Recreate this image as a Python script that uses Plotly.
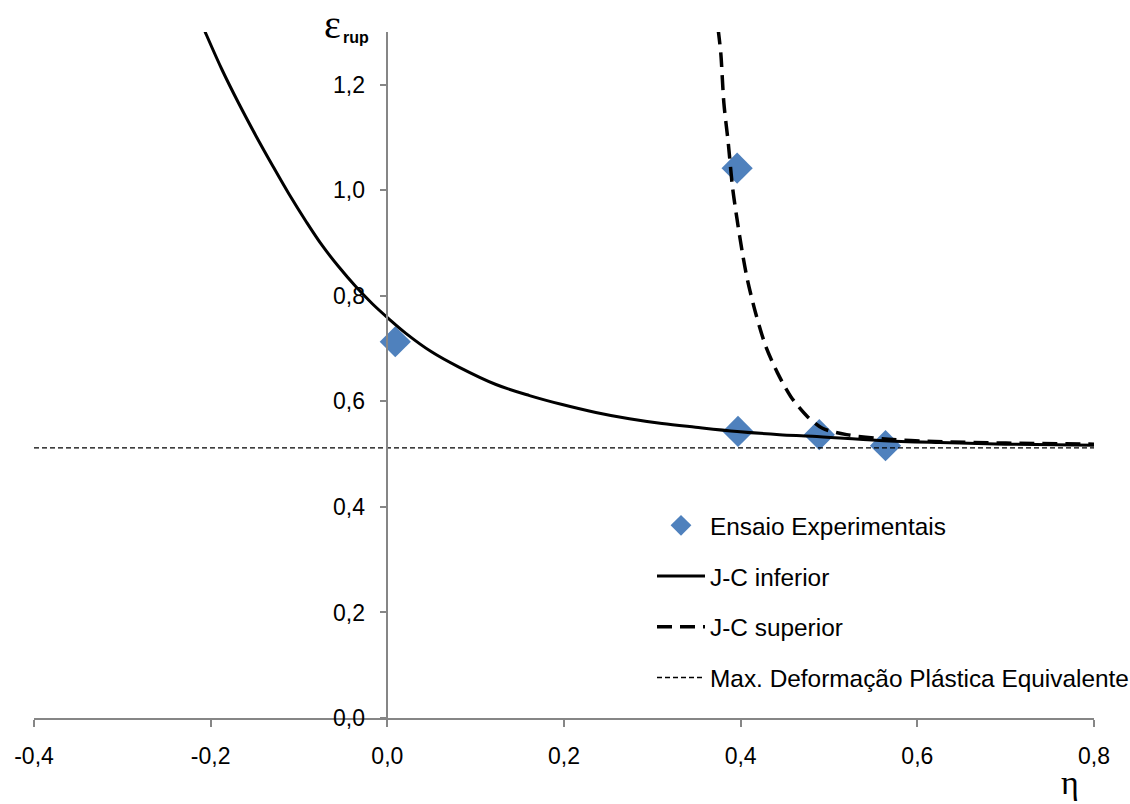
import plotly.graph_objects as go

# Experimental rupture strains vs. stress triaxiality
exp_eta = [0.009, 0.396, 0.397, 0.489, 0.564]
exp_eps = [0.713, 1.042, 0.543, 0.537, 0.516]

# Johnson-Cook lower-bound curve
inf_eta = [-0.209, -0.2057, -0.187, -0.168, -0.149, -0.130, -0.111, -0.092, -0.074,
           -0.055, -0.036, -0.017, 0.002, 0.021, 0.050, 0.081, 0.123, 0.161, 0.198,
           0.236, 0.274, 0.311, 0.349, 0.396, 0.444, 0.481, 0.557, 0.625, 0.700, 0.800]
inf_eps = [1.311, 1.298, 1.228, 1.164, 1.104, 1.047, 0.992, 0.941, 0.896,
           0.855, 0.818, 0.785, 0.756, 0.729, 0.694, 0.665, 0.632, 0.611, 0.594,
           0.579, 0.567, 0.558, 0.551, 0.543, 0.537, 0.534, 0.526, 0.522, 0.519, 0.517]

# Johnson-Cook upper-bound curve
sup_eta = [0.3745, 0.3775, 0.381, 0.386, 0.3907, 0.396, 0.402, 0.4077, 0.417, 0.4285,
           0.4417, 0.4568, 0.4757, 0.4926, 0.520, 0.560, 0.620, 0.700, 0.800]
sup_eps = [1.305, 1.260, 1.165, 1.089, 1.007, 0.944, 0.881, 0.830, 0.767, 0.704,
           0.654, 0.609, 0.571, 0.549, 0.537, 0.529, 0.524, 0.521, 0.519]

# Maximum equivalent plastic strain
max_eta = [-0.4, 0.8]
max_eps = [0.512, 0.512]

x_ticks = [-0.4, -0.2, 0.0, 0.2, 0.4, 0.6, 0.8]
x_labels = ["-0,4", "-0,2", "0,0", "0,2", "0,4", "0,6", "0,8"]
y_ticks = [0.0, 0.2, 0.4, 0.6, 0.8, 1.0, 1.2]
y_labels = ["0,0", "0,2", "0,4", "0,6", "0,8", "1,0", "1,2"]

W, H = 1130, 804
ML, MR, MT, MB = 34, 36, 32, 86
PW, PH = W - ML - MR, H - MT - MB


def px(x):
    return (x - ML) / PW


def py(y):
    return (H - MB - y) / PH


FONT = "Liberation Sans, Arial, sans-serif"
SERIF = "Liberation Serif, Times New Roman, serif"
AXIS_GREY = "#868686"

fig = go.Figure()

fig.add_trace(go.Scatter(
    x=exp_eta, y=exp_eps, mode="markers", name="Ensaio Experimentais",
    legendgroup="a",
    marker=dict(symbol="diamond", size=24, color="#4F81BD", line=dict(width=0)),
))
fig.add_trace(go.Scatter(
    x=inf_eta, y=inf_eps, mode="lines", name="J-C inferior", legendgroup="b",
    line=dict(color="black", width=3, shape="spline", smoothing=1.0),
))
fig.add_trace(go.Scatter(
    x=sup_eta, y=sup_eps, mode="lines", name="J-C superior", legendgroup="c",
    line=dict(color="black", width=3.5, dash="15px,8px", shape="spline", smoothing=0.8),
))
fig.add_trace(go.Scatter(
    x=max_eta, y=max_eps, mode="lines", name="Max. Deformação Plástica Equivalente",
    legendgroup="d",
    line=dict(color="black", width=1.3, dash="5px,3px"),
))

fig.update_layout(
    width=W, height=H,
    margin=dict(l=ML, r=MR, t=MT, b=MB, autoexpand=False),
    paper_bgcolor="white", plot_bgcolor="white",
    font=dict(family=FONT, size=23, color="black"),
    showlegend=True,
    legend=dict(
        x=px(652), y=py(503), xanchor="left", yanchor="top",
        bgcolor="rgba(0,0,0,0)", borderwidth=0,
        font=dict(family=FONT, size=24.4, color="black"),
        tracegroupgap=16, itemwidth=48,
    ),
    xaxis=dict(
        range=[-0.4, 0.8], tickvals=x_ticks, ticktext=x_labels,
        showline=True, linecolor=AXIS_GREY, linewidth=1.5,
        ticks="outside", ticklen=7, tickwidth=1.5, tickcolor=AXIS_GREY,
        showgrid=False, zeroline=False, ticklabelstandoff=10,
        tickfont=dict(family=FONT, size=23, color="black"),
    ),
    yaxis=dict(
        range=[0, 1.3], tickvals=y_ticks, ticktext=y_labels,
        anchor="free", position=1 / 3,
        showline=True, linecolor=AXIS_GREY, linewidth=1.5,
        ticks="outside", ticklen=7, tickwidth=1.5, tickcolor=AXIS_GREY,
        showgrid=False, zeroline=False, ticklabelstandoff=10,
        tickfont=dict(family=FONT, size=23, color="black"),
    ),
    annotations=[
        dict(text="ε", x=px(332), y=py(24), xref="paper", yref="paper",
             showarrow=False, xanchor="center", yanchor="middle",
             font=dict(family=SERIF, size=40, color="black")),
        dict(text="<b>rup</b>", x=px(356), y=py(38), xref="paper", yref="paper",
             showarrow=False, xanchor="center", yanchor="middle",
             font=dict(family=FONT, size=16, color="black")),
        dict(text="η", x=px(1070), y=py(803), xref="paper", yref="paper",
             showarrow=False, xanchor="center", yanchor="bottom",
             font=dict(family=SERIF, size=34, color="black")),
    ],
)

fig.write_html("out.html")
